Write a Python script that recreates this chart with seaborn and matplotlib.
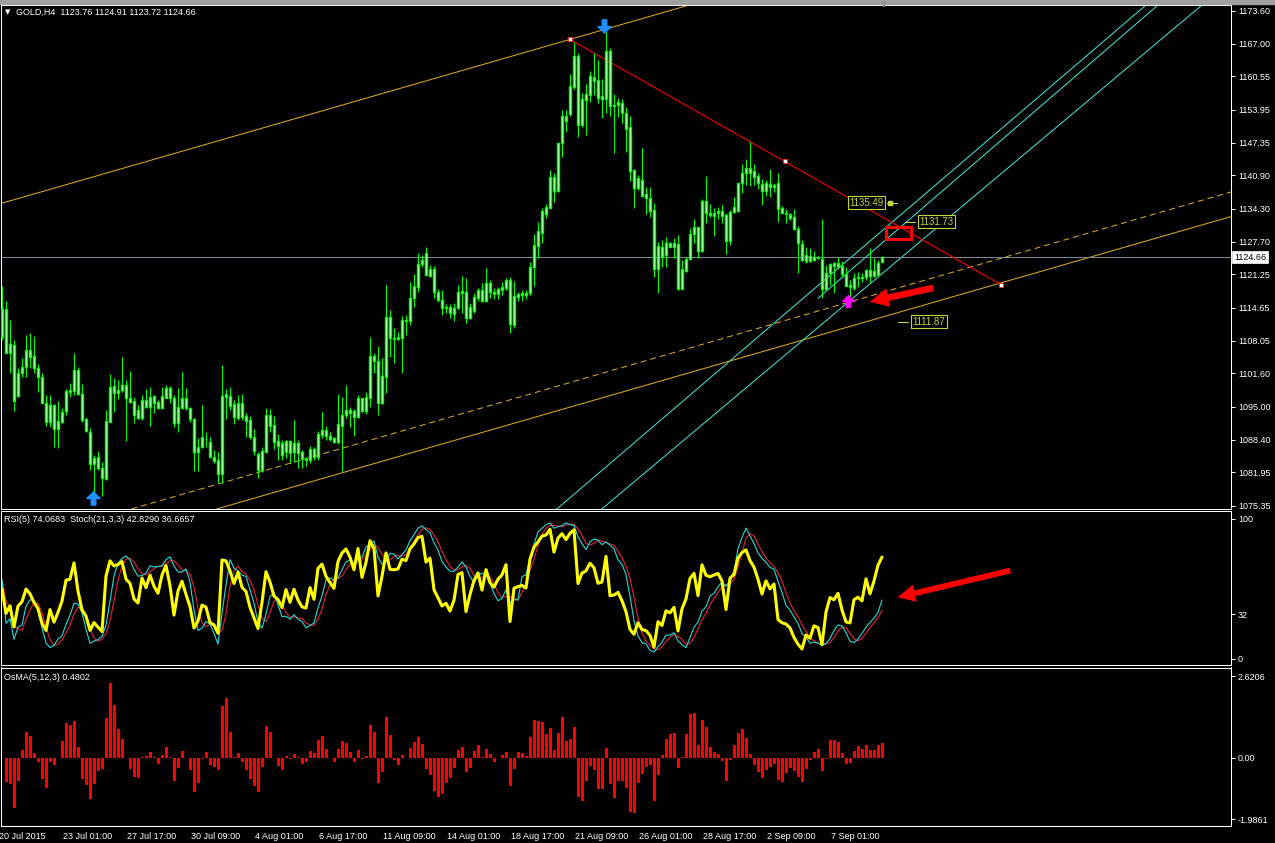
import numpy as np
import pandas as pd
import matplotlib
matplotlib.use("Agg")
import matplotlib.pyplot as plt
import matplotlib.transforms as mtransforms
from matplotlib.patches import Rectangle
from matplotlib.path import Path
import seaborn as sns

# ---- GOLD H4 candles ----
open_ = [1108.90, 1114.33, 1105.73, 1107.18, 1097.19, 1101.63, 1102.82, 1106.26, 1105.07, 1102.68,
         1100.90, 1095.67, 1092.03, 1095.28, 1090.51, 1092.03, 1094.22, 1097.99, 1098.19, 1102.29,
         1097.52, 1092.49, 1090.05, 1083.56, 1084.95, 1082.84, 1080.65, 1092.03, 1099.18, 1097.79,
         1098.32, 1099.31, 1096.66, 1096.13, 1094.35, 1092.69, 1096.33, 1095.01, 1097.19, 1096.00,
         1094.81, 1096.80, 1098.65, 1096.66, 1091.83, 1094.81, 1096.66, 1094.68, 1092.49, 1086.08,
         1086.94, 1088.66, 1087.93, 1084.95, 1084.42, 1081.65, 1097.52, 1097.13, 1095.47, 1092.83,
         1095.67, 1093.16, 1092.36, 1089.06, 1085.62, 1082.44, 1086.08, 1093.36, 1091.30, 1088.13,
         1087.73, 1086.08, 1088.13, 1086.08, 1087.73, 1086.01, 1084.69, 1084.42, 1086.54, 1085.09,
         1089.39, 1090.38, 1089.19, 1088.72, 1088.06, 1091.24, 1093.36, 1094.35, 1094.15, 1093.02,
         1096.66, 1094.22, 1096.66, 1105.07, 1104.07, 1095.67, 1100.83, 1112.74, 1108.57, 1108.44,
         1108.57, 1112.21, 1112.08, 1116.51, 1118.83, 1123.26, 1125.44, 1121.00, 1122.27, 1117.70,
         1116.18, 1114.53, 1114.73, 1113.40, 1114.53, 1117.64, 1117.84, 1112.54, 1114.00, 1116.64,
         1118.17, 1116.05, 1119.49, 1117.84, 1117.30, 1118.23, 1118.63, 1120.15, 1111.22, 1116.84,
         1117.17, 1117.50, 1117.50, 1122.66, 1126.90, 1129.55, 1133.25, 1134.50, 1140.53, 1137.81,
         1147.27, 1152.70, 1153.10, 1158.52, 1164.61, 1150.91, 1155.88, 1156.87, 1160.38, 1159.85,
         1156.07, 1156.07, 1165.60, 1154.69, 1154.95, 1155.35, 1153.36, 1150.45, 1141.98, 1138.48,
         1140.00, 1137.15, 1136.36, 1134.04, 1122.27, 1126.76, 1125.11, 1127.43, 1126.76, 1127.23,
         1118.36, 1121.93, 1124.38, 1129.21, 1130.60, 1125.97, 1135.83, 1133.51, 1132.85, 1133.38,
         1133.84, 1133.05, 1127.96, 1133.64, 1133.91, 1139.33, 1141.32, 1142.44, 1141.78, 1140.79,
         1139.20, 1137.88, 1139.14, 1138.54, 1139.33, 1134.50, 1133.45, 1133.18, 1132.59, 1130.27,
         1127.29, 1123.99, 1124.91, 1124.12, 1124.78, 1124.38, 1118.30, 1121.47, 1123.59, 1122.79,
         1122.93, 1121.34, 1119.16, 1118.50, 1120.48, 1120.81, 1120.81, 1122.13, 1121.00, 1121.14,
         1123.76]
high = [1118.96, 1115.98, 1112.21, 1108.24, 1102.62, 1104.60, 1109.23, 1109.57, 1109.04, 1103.48,
        1101.63, 1097.33, 1097.33, 1095.60, 1096.13, 1094.68, 1098.58, 1099.64, 1105.60, 1102.95,
        1099.44, 1092.69, 1090.71, 1085.42, 1086.28, 1084.09, 1094.35, 1101.49, 1100.63, 1100.30,
        1104.93, 1100.30, 1102.16, 1097.00, 1095.34, 1097.33, 1098.52, 1098.98, 1097.33, 1096.33,
        1098.98, 1099.31, 1099.11, 1097.33, 1098.65, 1101.82, 1098.65, 1094.88, 1092.69, 1088.72,
        1095.34, 1089.92, 1089.06, 1086.41, 1086.08, 1103.28, 1098.45, 1098.98, 1096.33, 1097.33,
        1097.52, 1093.69, 1093.16, 1090.51, 1085.95, 1086.94, 1094.68, 1094.55, 1093.16, 1089.58,
        1088.39, 1088.39, 1088.39, 1092.36, 1088.39, 1086.41, 1085.09, 1087.20, 1087.07, 1090.18,
        1094.02, 1091.17, 1090.05, 1089.06, 1097.52, 1097.00, 1099.31, 1095.01, 1094.48, 1097.33,
        1096.80, 1097.99, 1108.90, 1105.60, 1107.05, 1104.73, 1119.16, 1114.20, 1110.56, 1109.90,
        1113.00, 1113.20, 1119.69, 1121.34, 1125.58, 1125.05, 1126.77, 1123.13, 1122.93, 1118.30,
        1118.17, 1115.32, 1115.39, 1115.65, 1119.16, 1120.94, 1120.61, 1115.52, 1117.64, 1118.50,
        1119.49, 1122.47, 1120.15, 1118.50, 1118.83, 1119.69, 1120.61, 1120.81, 1120.02, 1117.84,
        1118.17, 1118.17, 1123.79, 1129.21, 1131.73, 1134.37, 1135.24, 1141.98, 1141.32, 1147.41,
        1153.89, 1153.89, 1160.97, 1167.32, 1165.14, 1157.20, 1158.98, 1161.63, 1165.14, 1163.82,
        1159.98, 1169.44, 1166.13, 1157.07, 1156.34, 1156.01, 1154.55, 1152.70, 1142.20, 1140.99,
        1146.42, 1138.67, 1138.54, 1135.50, 1127.63, 1128.09, 1128.62, 1127.76, 1128.55, 1129.08,
        1124.12, 1124.65, 1130.53, 1132.19, 1130.73, 1136.16, 1140.79, 1135.23, 1134.37, 1134.57,
        1135.03, 1133.51, 1134.04, 1136.56, 1139.47, 1143.17, 1144.10, 1147.60, 1143.11, 1141.32,
        1140.13, 1140.00, 1142.11, 1139.47, 1141.32, 1134.84, 1134.24, 1133.51, 1134.31, 1130.87,
        1128.09, 1126.76, 1126.43, 1125.90, 1124.91, 1132.19, 1123.13, 1123.46, 1123.80, 1124.78,
        1123.99, 1122.79, 1120.15, 1121.47, 1121.80, 1121.47, 1122.30, 1126.43, 1124.45, 1124.12,
        1124.91]
low = [1108.24, 1105.73, 1101.63, 1094.22, 1097.00, 1100.96, 1100.96, 1102.62, 1101.76, 1097.99,
       1095.67, 1091.24, 1091.04, 1087.07, 1086.74, 1091.70, 1093.36, 1096.86, 1097.33, 1097.33,
       1092.03, 1090.05, 1082.44, 1077.81, 1082.44, 1077.28, 1080.45, 1092.03, 1094.02, 1096.47,
       1097.99, 1088.26, 1095.67, 1091.70, 1092.56, 1092.36, 1094.68, 1091.24, 1093.69, 1094.68,
       1094.48, 1096.66, 1095.67, 1091.04, 1089.92, 1094.68, 1094.35, 1092.03, 1082.31, 1082.31,
       1086.74, 1087.07, 1084.76, 1083.89, 1079.79, 1079.79, 1092.49, 1094.35, 1091.57, 1092.36,
       1092.36, 1088.92, 1088.53, 1085.42, 1080.78, 1082.11, 1085.95, 1090.05, 1086.54, 1084.42,
       1084.42, 1084.76, 1083.89, 1084.09, 1082.77, 1082.77, 1083.23, 1083.76, 1084.42, 1084.42,
       1088.72, 1088.39, 1088.26, 1087.73, 1087.60, 1082.24, 1092.69, 1091.04, 1089.19, 1092.69,
       1094.02, 1093.55, 1095.01, 1101.63, 1093.36, 1095.54, 1097.66, 1104.93, 1103.61, 1108.24,
       1101.63, 1109.23, 1111.22, 1114.73, 1117.84, 1122.80, 1121.14, 1120.81, 1116.51, 1115.85,
       1113.20, 1113.53, 1112.67, 1112.08, 1114.33, 1113.67, 1111.55, 1112.41, 1113.67, 1116.05,
       1115.85, 1115.85, 1116.51, 1116.31, 1116.38, 1117.17, 1118.17, 1109.57, 1110.69, 1116.05,
       1116.05, 1116.31, 1117.17, 1118.96, 1124.45, 1127.43, 1132.39, 1134.37, 1135.70, 1137.68,
       1144.63, 1149.59, 1152.70, 1157.99, 1148.60, 1150.58, 1148.93, 1155.55, 1156.87, 1155.35,
       1152.24, 1153.23, 1152.70, 1145.42, 1152.57, 1151.25, 1145.62, 1139.87, 1134.50, 1138.01,
       1136.69, 1133.18, 1132.72, 1120.68, 1117.50, 1122.66, 1122.79, 1126.63, 1124.45, 1118.16,
       1118.30, 1121.80, 1124.25, 1127.43, 1124.45, 1125.77, 1131.53, 1132.59, 1128.88, 1132.19,
       1131.40, 1125.31, 1127.10, 1133.38, 1133.71, 1137.35, 1139.00, 1138.81, 1139.00, 1138.14,
       1135.03, 1136.82, 1136.69, 1137.55, 1131.73, 1133.38, 1131.40, 1132.06, 1130.07, 1121.47,
       1123.99, 1123.46, 1123.79, 1123.92, 1124.25, 1116.51, 1118.16, 1119.16, 1117.50, 1122.46,
       1120.81, 1118.96, 1116.84, 1118.16, 1118.83, 1119.82, 1120.15, 1119.49, 1120.68, 1121.00,
       1123.72]
close = [1114.33, 1105.73, 1107.45, 1096.20, 1101.63, 1102.82, 1106.26, 1104.93, 1102.62, 1100.83,
         1095.67, 1092.03, 1095.34, 1090.51, 1092.10, 1093.95, 1098.12, 1098.32, 1102.29, 1097.46,
         1092.36, 1090.25, 1083.56, 1084.76, 1082.77, 1080.78, 1092.16, 1098.91, 1097.79, 1098.32,
         1099.31, 1096.66, 1096.00, 1093.42, 1092.69, 1096.33, 1095.01, 1097.00, 1095.67, 1094.81,
         1097.13, 1098.65, 1096.66, 1091.70, 1095.01, 1096.66, 1094.68, 1092.49, 1086.08, 1086.94,
         1088.92, 1088.53, 1084.95, 1084.29, 1081.65, 1097.19, 1097.00, 1095.21, 1092.89, 1095.67,
         1093.02, 1092.23, 1089.06, 1086.28, 1082.44, 1086.15, 1093.36, 1091.24, 1088.06, 1087.27,
         1085.42, 1088.19, 1085.75, 1087.73, 1085.88, 1084.62, 1084.42, 1086.54, 1085.09, 1089.52,
         1090.38, 1089.19, 1088.59, 1088.06, 1091.57, 1093.36, 1094.35, 1093.82, 1093.02, 1096.73,
         1094.22, 1096.86, 1105.07, 1104.14, 1095.67, 1101.10, 1112.74, 1108.57, 1108.44, 1108.77,
         1112.21, 1112.01, 1116.51, 1118.96, 1123.26, 1124.12, 1121.14, 1122.27, 1117.70, 1116.18,
         1114.53, 1114.86, 1113.53, 1114.53, 1117.70, 1117.97, 1112.54, 1114.73, 1116.84, 1118.17,
         1116.05, 1119.49, 1117.84, 1117.30, 1118.30, 1118.83, 1120.15, 1111.35, 1116.97, 1117.30,
         1117.50, 1117.17, 1122.66, 1127.10, 1129.88, 1133.85, 1134.71, 1140.66, 1137.81, 1147.27,
         1152.70, 1151.77, 1158.66, 1164.61, 1150.91, 1156.01, 1157.07, 1160.71, 1159.71, 1156.34,
         1156.67, 1165.60, 1154.69, 1154.88, 1155.55, 1153.36, 1150.12, 1141.85, 1138.48, 1140.33,
         1136.89, 1136.36, 1133.91, 1122.27, 1126.90, 1124.78, 1127.43, 1126.76, 1127.56, 1118.36,
         1122.33, 1124.32, 1129.28, 1130.73, 1125.97, 1135.83, 1133.38, 1133.05, 1133.51, 1133.84,
         1132.92, 1127.96, 1133.71, 1134.57, 1139.33, 1141.45, 1142.44, 1141.32, 1140.66, 1139.47,
         1137.81, 1139.33, 1138.54, 1139.00, 1134.24, 1133.51, 1133.25, 1132.52, 1130.20, 1127.43,
         1124.12, 1125.11, 1123.99, 1124.78, 1124.45, 1118.30, 1121.47, 1123.26, 1122.93, 1123.59,
         1121.34, 1119.02, 1118.83, 1120.61, 1120.81, 1120.48, 1122.13, 1121.00, 1122.00, 1123.59,
         1124.66]

date_ticks = [0, 16, 32, 48, 64, 80, 96, 112, 128, 144, 160, 176, 192, 208]
date_labels = ["20 Jul 2015", "23 Jul 01:00", "27 Jul 17:00", "30 Jul 09:00", "4 Aug 01:00",
               "6 Aug 17:00", "11 Aug 09:00", "14 Aug 01:00", "18 Aug 17:00", "21 Aug 09:00",
               "26 Aug 01:00", "28 Aug 17:00", "2 Sep 09:00", "7 Sep 01:00"]
price_ticks = [1173.60, 1167.00, 1160.55, 1153.95, 1147.35, 1140.90, 1134.30, 1127.70,
               1121.25, 1114.65, 1108.05, 1101.60, 1095.00, 1088.40, 1081.95, 1075.35]
rsi_ticks = [0, 32, 100]
osma_ticks = [-1.9861, 0.0, 2.6206]
osma_tick_labels = ["-1.9861", "0.00", "2.6206"]
last_price = 1124.66
rsi_seed = 2.0  # assumed average gain/loss carried in from bars before the window

# drawn objects: (bar, price) anchors
channel_upper = [(42, 1145.01), (142, 1167.90)]
channel_lower = [(139.5, 1094.34), (239.5, 1117.23)]
channel_mid_dash = [(94.5, 1088.92), (194.5, 1111.81)]
trend_bars = [142, 195.75, 249.75]
trend_prices = [1167.90, 1143.77, 1119.25]
fork_a = [(139, 1074.89), (286, 1174.73)]
fork_b = [(150.25, 1074.89), (300, 1174.73)]
fork_mid = [(204, 1116.51), (289, 1174.73)]
price_labels = [1135.49, 1131.73, 1111.87]
label_bars = [216.1, 233.7, 231.7]

sns.set_style("dark", {"axes.facecolor": "black", "figure.facecolor": "black"})
plt.rcParams['font.family'] = ['Liberation Sans', 'DejaVu Sans']

W, H = 1275, 843
fig = plt.figure(figsize=(W / 100, H / 100), dpi=100, facecolor='black')


def px_axes(x0, y0, x1, y1):
    ax = fig.add_axes([x0 / W, 1 - y1 / H, (x1 - x0) / W, (y1 - y0) / H])
    ax.set_facecolor('black')
    ax.grid(False)
    for s in ax.spines.values():
        s.set_color('white')
        s.set_linewidth(0.75)
    ax.yaxis.tick_right()
    ax.tick_params(axis='y', colors='white', length=3, width=0.75, labelsize=6.5, pad=2)
    ax.set_xlim(-0.25, 307.25)
    ax.set_xticks([])
    return ax


bars = np.arange(len(close))
o = np.array(open_)
c = np.array(close)
h = np.array(high)
l = np.array(low)

# ---- main price panel ----
ax = px_axes(1, 5, 1231, 509)
ax.set_ylim(1074.69, 1174.73)
ax.set_yticks(price_ticks)
ax.set_yticklabels([f"{v:.2f}" for v in price_ticks])

gold = '#daa520'
ax.axline(*channel_upper, color=gold, lw=0.75, zorder=1)
ax.axline(*channel_lower, color=gold, lw=0.75, zorder=1)
ax.axline(*channel_mid_dash, color=gold, lw=0.75, ls=(0, (5.8, 3.8)), zorder=1)
turq = '#40e0d0'
ax.axline(*fork_a, color=turq, lw=0.75, zorder=1)
ax.axline(*fork_b, color=turq, lw=0.75, zorder=1)
ax.plot([p[0] for p in fork_mid], [p[1] for p in fork_mid], color=turq, lw=0.75, zorder=1)
ax.axhline(last_price, color='#778899', lw=0.75, zorder=1)

ax.vlines(bars, l, h, color='#00ff00', lw=0.8, zorder=3)
body_h = np.maximum(np.abs(c - o), 0.15)
ax.bar(bars, body_h, bottom=np.minimum(o, c), width=0.45, facecolor='#f4fff4',
       edgecolor='#00ff00', linewidth=1.0, zorder=4)

ax.plot([trend_bars[0], trend_bars[-1]], [trend_prices[0], trend_prices[-1]],
        color='#ff0000', lw=0.75, zorder=2)
ax.plot(trend_bars, trend_prices, ls='none', marker='s', ms=3.3, mfc='white',
        mec='#ff2020', mew=0.6, zorder=5)

lab_col = '#c2d63c'
for b, v in zip(label_bars, price_labels):
    ax.text(b, v, f"{v:.2f}", ha='center', va='center', color=lab_col, fontsize=7,
            bbox=dict(boxstyle='square,pad=0.15', fc='black', ec=lab_col, lw=0.8), zorder=6)
ax.plot([221.3, 223.75], [price_labels[0]] * 2, color=lab_col, lw=0.8, zorder=6)
ax.plot([221.9], [price_labels[0]], marker='s', ms=2.2, color=lab_col, zorder=6)
ax.plot([225.8, 228.3], [price_labels[1]] * 2, color=lab_col, lw=0.8, zorder=6)
ax.plot([223.9, 226.4], [price_labels[2]] * 2, color=lab_col, lw=0.8, zorder=6)

ax.add_patch(Rectangle((221.0, 1128.23), 6.2, 2.5, fill=False, ec='#ff0000', lw=2.2, zorder=6))
ax.annotate('', xy=(216.3, 1115.72), xytext=(233.5, 1118.70),
            arrowprops=dict(arrowstyle='simple,head_length=0.9,head_width=0.9,tail_width=0.32',
                            color='#ff0000', mutation_scale=15, lw=0), zorder=7)

up_arrow = Path([(0, 1), (1, 0), (0.35, 0), (0.35, -1), (-0.35, -1), (-0.35, 0), (-1, 0), (0, 1)],
                [Path.MOVETO] + [Path.LINETO] * 6 + [Path.CLOSEPOLY])
down_arrow = Path([(x, -y) for x, y in up_arrow.vertices], up_arrow.codes)
ax.plot([22.7], [1076.9], marker=up_arrow, ms=9.5, color='#1e90ff', ls='none', zorder=6)
ax.plot([150.5], [1170.56], marker=down_arrow, ms=9.5, color='#1e90ff', ls='none', zorder=6)
ax.plot([211.5], [1115.98], marker=up_arrow, ms=8.5, color='#ff00ff', ls='none', zorder=6)

blend = mtransforms.blended_transform_factory(ax.transAxes, ax.transData)
ax.text(1.0025, last_price, f"{last_price:.2f}", transform=blend, ha='left', va='center',
        fontsize=6.5, color='black',
        bbox=dict(boxstyle='square,pad=0.18', fc='white', ec='white', lw=0.5), zorder=8)

# ---- RSI(5) + Stoch(21,3,3) panel ----
s = pd.Series(c)
d = s.diff()
g_in = d.clip(lower=0)
l_in = (-d).clip(lower=0)
g_in.iloc[0] = rsi_seed
l_in.iloc[0] = rsi_seed
gain = g_in.ewm(alpha=1 / 5, adjust=False).mean()
loss = l_in.ewm(alpha=1 / 5, adjust=False).mean()
rsi = 100 * gain / (gain + loss)
ll = pd.Series(l).rolling(21, min_periods=1).min()
hh = pd.Series(h).rolling(21, min_periods=1).max()
stoch_k = 100 * (s - ll).rolling(3, min_periods=1).sum() / (hh - ll).rolling(3, min_periods=1).sum()
stoch_d = stoch_k.rolling(3, min_periods=1).mean()

ax2 = px_axes(1, 511, 1231, 665)
ax2.set_ylim(-4.3, 105.7)
ax2.set_yticks(rsi_ticks)
ax2.set_yticklabels([str(v) for v in rsi_ticks])
sns.lineplot(x=bars, y=stoch_d.values, ax=ax2, color='#e8203a', lw=0.8)
sns.lineplot(x=bars, y=stoch_k.values, ax=ax2, color='#20dcdc', lw=0.8)
sns.lineplot(x=bars, y=rsi.values, ax=ax2, color='#ffff00', lw=2.2)
ax2.set_xlim(-0.25, 307.25)
ax2.set_xticks([])
ax2.set_xlabel('')
ax2.annotate('', xy=(223.25, 43.6), xytext=(252.75, 63.6),
             arrowprops=dict(arrowstyle='simple,head_length=0.9,head_width=0.9,tail_width=0.3',
                             color='#ff0000', mutation_scale=14, lw=0))

# ---- OsMA(5,12,3) panel ----
macd = s.ewm(span=5, adjust=False).mean() - s.ewm(span=12, adjust=False).mean()
osma = macd - macd.rolling(3, min_periods=1).mean()

ax3 = px_axes(1, 667.5, 1231, 826)
ax3.set_ylim(-2.201, 2.894)
ax3.bar(bars, osma.values, width=0.75, color='#ff0000', linewidth=0)
ax3.set_yticks(osma_ticks)
ax3.set_yticklabels(osma_tick_labels)
ax3.set_xticks(date_ticks)
ax3.set_xticklabels(date_labels, ha='left')
ax3.tick_params(axis='x', colors='white', length=3, width=0.75, labelsize=6.5, pad=1)
shift = mtransforms.ScaledTranslation(-3 / 100, 0, fig.dpi_scale_trans)
for t in ax3.get_xticklabels():
    t.set_transform(t.get_transform() + shift)

# ---- panel captions ----
fig.patches.append(Rectangle((0, 1 - 4 / H), 1, 4 / H, transform=fig.transFigure,
                             color='#a0a0a0', zorder=0))
fig.text(5 / W, 1 - 12 / H, "▼", color='white', fontsize=5, va='center',
         family=['DejaVu Sans'])
fig.text(16 / W, 1 - 12 / H, "GOLD,H4  1123.76 1124.91 1123.72 1124.66",
         color='white', fontsize=6.5, va='center')
fig.text(884 / W, 1 - 5 / H, "▼", color='#909090', fontsize=5, va='center', ha='center',
         family=['DejaVu Sans'])
fig.text(4 / W, 1 - 520 / H, "RSI(5) 74.0683  Stoch(21,3,3) 42.8290 36.6657",
         color='white', fontsize=6.5, va='center')
fig.text(4 / W, 1 - 677 / H, "OsMA(5,12,3) 0.4802", color='white', fontsize=6.5, va='center')

fig.savefig("out.png", dpi=100, facecolor='black')
